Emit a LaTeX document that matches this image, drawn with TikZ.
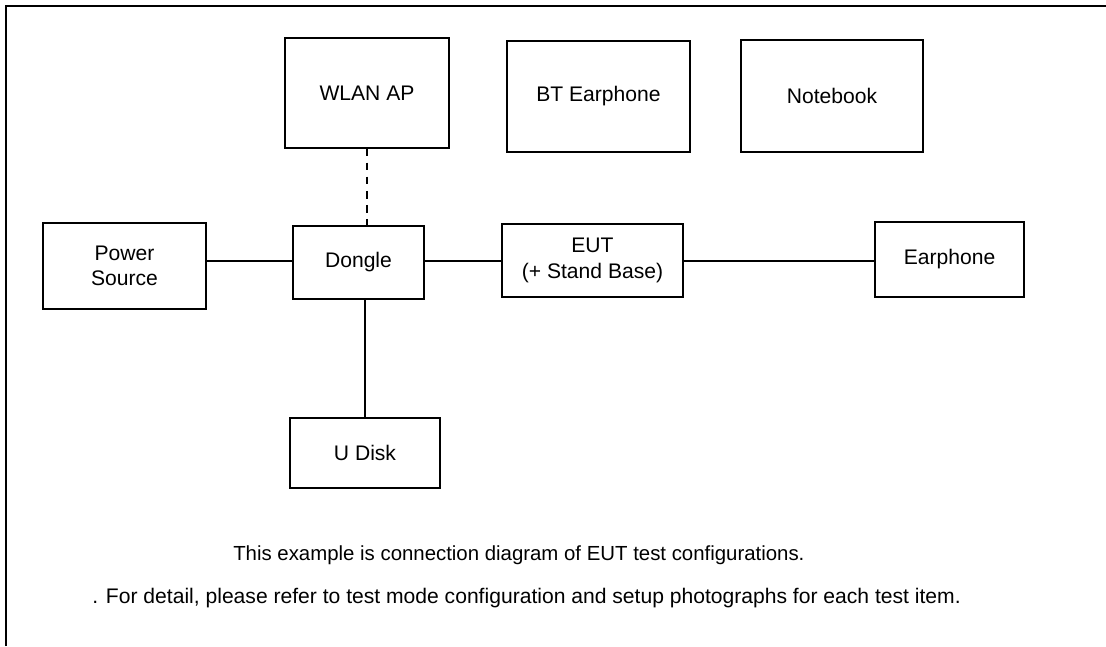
\documentclass[tikz,border=0pt]{standalone}
\usepackage{fontspec}
\setmainfont{Liberation Sans}
\usepackage{tikz}

\begin{document}
\begin{tikzpicture}[x=0.025cm,y=-0.025cm,
		box/.style={draw,line width=0.8pt,align=center,inner sep=0pt,font=\fontsize{15}{18}\selectfont},
		wire/.style={line width=1pt},
		note/.style={inner sep=0pt,font=\fontsize{15}{18}\selectfont}]
	\useasboundingbox (0,0) rectangle (1106,646);
	% Rahmen: nur oben und links sichtbar
	\draw[line width=1.8pt] (6,646) -- (6,6) -- (1106,6);
	\node[box,minimum width=4.1cm,minimum height=2.75cm] (wlan) at (367,93) {WLAN AP};
	\node[box,minimum width=4.575cm,minimum height=2.775cm] (bt) at (598.5,96.5) {BT Earphone};
	\node[box,minimum width=4.55cm,minimum height=2.8cm] (nb) at (832,96) {Notebook};
	\node[box,minimum width=4.075cm,minimum height=2.15cm] (power) at (124.5,266) {Power\\Source};
	\node[box,minimum width=3.275cm,minimum height=1.825cm] (dongle) at (358.5,262.5) {Dongle};
	\node[box,minimum width=4.525cm,minimum height=1.825cm] (eut) at (592.5,260.5) {EUT\\(+ Stand Base)};
	\node[box,minimum width=3.725cm,minimum height=1.875cm] (ear) at (949.5,259.5) {Earphone};
	\node[box,minimum width=3.75cm,minimum height=1.75cm] (udisk) at (365,453) {U Disk};
	\draw[wire] (dongle.west |- 0,261) -- (power.east |- 0,261);
	\draw[wire] (dongle.east |- 0,261) -- (eut.west |- 0,261);
	\draw[wire] (eut.east |- 0,261) -- (ear.west |- 0,261);
	\draw[wire] (udisk.north) -- (udisk.north |- dongle.south);
	\draw[wire,dash pattern=on 5.5pt off 4.5pt] (wlan.south) -- (wlan.south |- dongle.north);
	\node[note,anchor=base west,font=\fontsize{14.5}{17}\selectfont] (note1) at (233,560) {This example is connection diagram of EUT test configurations.};
	\node[note,anchor=base west] (note2) at (92,603) {. For detail, please refer to test mode configuration and setup photographs for each test item.};
\end{tikzpicture}
\end{document}
